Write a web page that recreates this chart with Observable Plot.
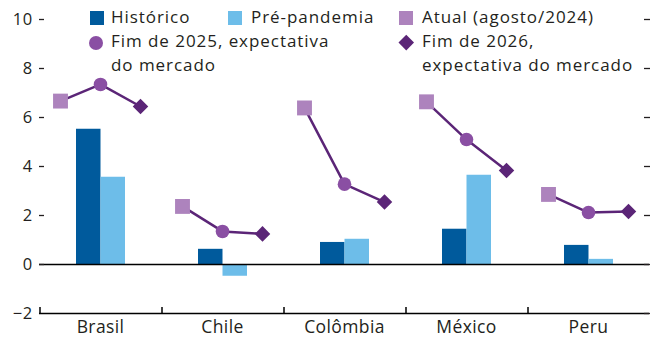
<!DOCTYPE html>
<html>
<head>
<meta charset="utf-8">
<script src="https://cdn.jsdelivr.net/npm/d3@7"></script>
<script src="https://cdn.jsdelivr.net/npm/@observablehq/plot@0.6"></script>
<style>
  html, body { margin: 0; padding: 0; background: #fff; }
  #wrap { position: relative; width: 651px; height: 339px; font-family: "Open Sans", Lato, sans-serif; color: #231f20; }
  #legend { position: absolute; left: 0; top: 0; width: 651px; height: 100px; pointer-events: none; }
  .item { position: absolute; font-size: 17px; line-height: 23.5px; letter-spacing: 0.95px; white-space: nowrap; }
  .mk { position: absolute; display: block; }
  .sq { width: 14px; height: 14px; }
  .ci { width: 14px; height: 14px; border-radius: 50%; }
  .di { width: 10.5px; height: 10.5px; transform: rotate(45deg); }
  svg text { letter-spacing: 0.4px; }
</style>
</head>
<body>
<div id="wrap">
  <div id="chart"></div>
  <div id="legend"></div>
</div>
<script>
// ---- data ----
const countries = ["Brasil", "Chile", "Colômbia", "México", "Peru"];
const historico = [5.52, 0.62, 0.90, 1.44, 0.78];
const prePandemia = [3.56, -0.48, 1.03, 3.64, 0.21];
const atual = [6.67, 2.37, 6.39, 6.64, 2.86];
const fim2025 = [7.35, 1.35, 3.28, 5.10, 2.12];
const fim2026 = [6.45, 1.25, 2.55, 3.84, 2.16];
const yTicks = [-2, 0, 2, 4, 6, 8, 10];
const seriesNames = ["Histórico", "Pré-pandemia", "Atual (agosto/2024)", "Fim de 2025, expectativa do mercado", "Fim de 2026, expectativa do mercado"];

// ---- colors ----
const cHist = "#005a9c";
const cPre = "#6dbde9";
const cAtual = "#ad83bd";
const c2025 = "#8a4fa3";
const c2026 = "#5b2577";
const cLine = "#5b2577";

const rows = countries.map((c, i) => ({
  country: c, hist: historico[i], pre: prePandemia[i],
  atual: atual[i], f2025: fim2025[i], f2026: fim2026[i]
}));
const pts = rows.flatMap(r => [
  {country: r.country, key: "atual", v: r.atual},
  {country: r.country, key: "f2025", v: r.f2025},
  {country: r.country, key: "f2026", v: r.f2026}
]);

const chart = Plot.plot({
  width: 651,
  height: 339,
  marginLeft: 37,
  marginRight: 0,
  marginTop: 19,
  marginBottom: 26,
  style: {fontFamily: "'Open Sans', Lato, sans-serif", fontSize: "16.5px", color: "#231f20", background: "transparent"},
  fx: {domain: countries, padding: 0, label: null},
  x: {type: "point", domain: ["atual", "f2025", "f2026"], padding: 0.5, axis: null},
  y: {domain: [-2, 10], label: null},
  marks: [
    // bars
    Plot.ruleX(rows, {fx: "country", x: () => "f2025", y1: 0, y2: "hist", stroke: cHist, strokeWidth: 24.5, dx: -12.25}),
    Plot.ruleX(rows, {fx: "country", x: () => "f2025", y1: 0, y2: "pre", stroke: cPre, strokeWidth: 24.5, dx: 12.25}),
    // baselines
    Plot.ruleY([0], {stroke: "#000", strokeWidth: 1.5}),
    Plot.ruleY([-2], {stroke: "#000", strokeWidth: 1.5}),
    // category boundary ticks
    Plot.ruleX(rows, {fx: "country", x: () => "atual", y1: -2, y2: -1.76, stroke: "#000", strokeWidth: 1.5, dx: -20.5}),
    // y axes
    Plot.axisY(yTicks, {anchor: "left", tickSize: 0, tickPadding: 7, label: null}),
    Plot.axisY(yTicks.filter(t => t > -2), {anchor: "left", tickSize: 5, dx: 5, tickFormat: () => "", label: null, strokeWidth: 1.3}),
    Plot.axisY(yTicks, {anchor: "right", tickSize: 6, dx: -6, tickFormat: () => "", label: null, strokeWidth: 1.3}),
    Plot.axisFx({anchor: "bottom", tickSize: 0, tickPadding: 7, label: null, fontSize: 17.5}),
    // lines and markers
    Plot.line(pts, {fx: "country", x: "key", y: "v", stroke: cLine, strokeWidth: 2.5}),
    Plot.dot(rows, {fx: "country", x: () => "atual", y: "atual", symbol: "square", r: 8.4, fill: cAtual}),
    Plot.dot(rows, {fx: "country", x: () => "f2025", y: "f2025", symbol: "circle", r: 6.8, fill: c2025}),
    Plot.dot(rows, {fx: "country", x: () => "f2026", y: "f2026", symbol: "diamond2", r: 7, fill: c2026})
  ]
});
document.getElementById("chart").appendChild(chart);

// ---- legend ----
const legendItems = [
  {label: seriesNames[0], lines: ["Histórico"], cls: "sq", color: cHist, left: 111, top: 5, mkLeft: -21, mkTop: 6},
  {label: seriesNames[1], lines: ["Pré-pandemia"], cls: "sq", color: cPre, left: 251, top: 5, mkLeft: -23, mkTop: 6},
  {label: seriesNames[2], lines: ["Atual (agosto/2024)"], cls: "sq", color: cAtual, left: 422, top: 5, mkLeft: -23, mkTop: 6},
  {label: seriesNames[3], lines: ["Fim de 2025, expectativa", "do mercado"], cls: "ci", color: c2025, left: 111, top: 29, mkLeft: -22, mkTop: 7},
  {label: seriesNames[4], lines: ["Fim de 2026,", "expectativa do mercado"], cls: "di", color: c2026, left: 422, top: 29, mkLeft: -23, mkTop: 6}
];
const legend = document.getElementById("legend");
for (const it of legendItems) {
  const div = document.createElement("div");
  div.className = "item";
  div.style.left = it.left + "px";
  div.style.top = it.top + "px";
  div.innerHTML = it.lines.join("<br>");
  const mk = document.createElement("span");
  mk.className = "mk " + it.cls;
  mk.style.background = it.color;
  mk.style.left = (it.mkLeft + (it.cls === "di" ? 2 : 0)) + "px";
  mk.style.top = (it.mkTop + (it.cls === "di" ? 2 : 0)) + "px";
  div.appendChild(mk);
  legend.appendChild(div);
}
</script>
</body>
</html>
